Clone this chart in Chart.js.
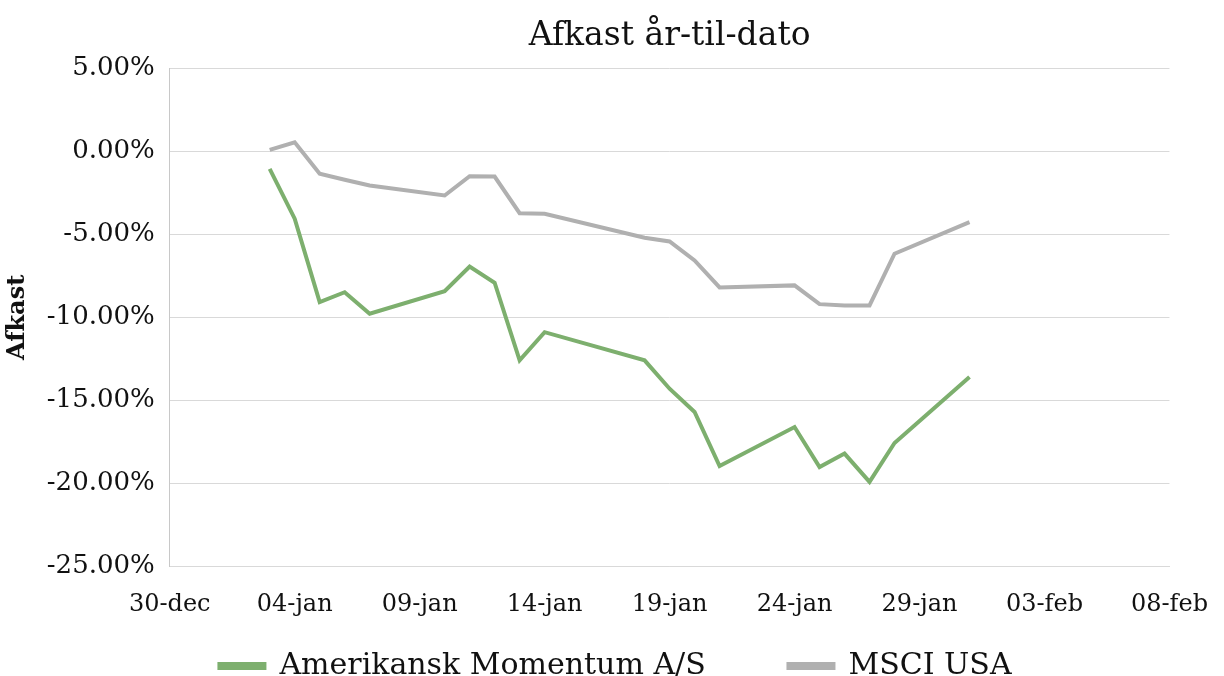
<!DOCTYPE html>
<html lang="da">
<head>
  <meta charset="UTF-8">
  <title>Afkast år-til-dato</title>
  <script src="https://cdn.jsdelivr.net/npm/chart.js"></script>
  <style>
    body { margin: 0; background: #fff; }
  </style>
</head>
<body>
<canvas id="grafAfkast" width="1224" height="676"></canvas>

<script>
  // dage efter 30-dec
  const dage = [4, 5, 6, 7, 8, 11, 12, 13, 14, 15, 19, 20, 21, 22, 25, 26, 27, 28, 29, 32];
  const momentum = [-1.04, -4.05, -9.08, -8.48, -9.78, -8.42, -6.93, -7.91, -12.59, -10.89,
                    -12.59, -14.30, -15.70, -18.96, -16.61, -19.02, -18.21, -19.92, -17.57, -13.60];
  const msci = [0.10, 0.56, -1.34, -1.70, -2.05, -2.65, -1.49, -1.51, -3.72, -3.75,
                -5.20, -5.42, -6.57, -8.19, -8.07, -9.20, -9.28, -9.28, -6.16, -4.26];
  const xEtiketter = ['30-dec', '04-jan', '09-jan', '14-jan', '19-jan', '24-jan', '29-jan', '03-feb', '08-feb'];

  const skrift = 'DejaVu Serif';

  const punkter = (vaerdier) => vaerdier.map((v, i) => ({ x: dage[i], y: v }));

  new Chart(document.getElementById('grafAfkast'), {
    type: 'line',
    data: {
      datasets: [
        {
          label: 'Amerikansk Momentum A/S',
          data: punkter(momentum),
          borderColor: '#7DAF6E',
          backgroundColor: '#7DAF6E',
          borderWidth: 4,
          pointRadius: 0,
          tension: 0
        },
        {
          label: 'MSCI USA',
          data: punkter(msci),
          borderColor: '#B0B0B0',
          backgroundColor: '#B0B0B0',
          borderWidth: 4,
          pointRadius: 0,
          tension: 0
        }
      ]
    },
    options: {
      responsive: false,
      animation: false,
      layout: { padding: { left: 3, right: -4, top: 3, bottom: -15 } },
      plugins: {
        title: {
          display: true,
          text: 'Afkast år-til-dato',
          color: '#111',
          fullSize: false,
          font: { family: skrift, size: 33, weight: 'normal' },
          padding: { top: 14, bottom: 12 }
        },
        legend: {
          position: 'bottom',
          labels: {
            color: '#111',
            font: { family: skrift, size: 30 },
            boxWidth: 45,
            boxHeight: 4,
            padding: 16,
            // ekstra luft mellem de to forklaringer
            generateLabels: (chart) => {
              const std = Chart.defaults.plugins.legend.labels.generateLabels(chart);
              std[0].text = std[0].text + '\u00a0'.repeat(7);
              return std;
            }
          }
        },
        tooltip: { enabled: false }
      },
      scales: {
        x: {
          type: 'linear',
          min: 0,
          max: 40,
          grid: { display: false },
          border: { color: '#d9d9d9' },
          ticks: {
            stepSize: 5,
            color: '#111',
            font: { family: skrift, size: 24 },
            maxRotation: 0,
            padding: 16,
            callback: (v) => xEtiketter[Math.round(v / 5)]
          }
        },
        y: {
          min: -25,
          max: 5,
          grid: { color: '#d9d9d9', drawTicks: false },
          border: { color: '#c8c8c8' },
          title: {
            display: true,
            text: 'Afkast',
            color: '#111',
            font: { family: skrift, size: 24, weight: 'bold' },
            padding: 0
          },
          ticks: {
            stepSize: 5,
            color: '#111',
            font: { family: skrift, size: 26 },
            padding: 15,
            callback: (v) => v.toFixed(2) + '%'
          }
        }
      }
    }
  });
</script>
</body>
</html>
